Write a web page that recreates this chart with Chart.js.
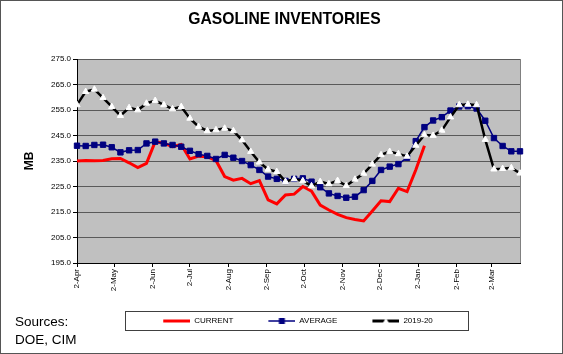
<!DOCTYPE html>
<html>
<head>
<meta charset="utf-8">
<script src="https://cdn.jsdelivr.net/npm/chart.js@4.4.0/dist/chart.umd.min.js"></script>
<style>
html,body{margin:0;padding:0;background:#fff;}
#wrap{position:relative;width:563px;height:354px;overflow:hidden;background:#fff;}
#c{position:absolute;left:0;top:0;}
#src{position:absolute;left:15px;top:313px;font-family:'Liberation Sans',Arial,sans-serif;font-size:13.5px;line-height:18px;color:#000;}
#frame{position:absolute;left:0;top:0;width:561px;height:352px;border:1px solid #555;pointer-events:none;}
</style>
</head>
<body>
<div id="wrap">
<canvas id="c" width="563" height="354"></canvas>
<div id="src">Sources:<br>DOE, CIM</div>
<div id="frame"></div>
</div>
<script>
// Weeks: days after 2-Apr
const weekDays = [0,7,14,21,28,35,42,49,56,63,70,77,84,91,98,105,112,119,126,133,140,147,154,161,168,175,182,189,196,203,210,217,224,231,238,245,252,259,266,273,280,287,294,301,308,315,322,329,336,343,350,357];

const currentValues = [235.0,235.2,235.1,235.2,235.9,236.0,234.3,232.4,234.1,242.6,
  242.0,240.6,241.5,235.8,236.9,236.7,235.2,228.9,227.5,228.2,
  226.1,227.3,219.8,218.2,221.7,222.0,225.0,223.2,217.7,215.8,
  214.1,212.8,212.1,211.5,215.4,219.4,219.1,224.3,223.0,231.5,
  241.0];

const averageValues = [241.0,240.9,241.3,241.4,240.4,238.4,239.2,239.3,241.9,242.6,
  241.9,241.3,240.6,239.0,237.7,237.0,235.8,237.4,236.3,235.0,
  233.4,231.5,228.9,228.0,227.2,228.0,228.2,226.9,224.7,222.3,
  221.3,220.6,221.0,223.6,227.2,231.5,232.8,233.8,236.3,242.8,
  248.3,250.9,252.2,254.8,256.4,256.5,255.6,250.8,244.0,240.9,
  238.8,238.8];

const prevYearValues = [257.0,262.2,263.1,259.8,256.3,252.8,255.9,255.0,257.6,258.7,
  257.0,255.4,256.3,251.7,248.5,246.8,247.2,247.8,246.8,243.2,
  238.7,234.5,231.7,230.8,226.9,227.9,227.2,225.2,226.9,226.0,
  227.3,225.3,227.8,230.1,233.7,237.4,238.7,237.8,236.8,241.1,
  245.2,245.0,247.0,252.2,257.0,257.2,257.0,243.4,231.8,232.0,
  232.3,230.2];

const monthTickDays = [0,30,61,91,122,153,183,214,244,275,306,334];
const monthTickLabels = ['2-Apr','2-May','2-Jun','2-Jul','2-Aug','2-Sep','2-Oct','2-Nov','2-Dec','2-Jan','2-Feb','2-Mar'];

const seriesNames = ['CURRENT','AVERAGE','2019-20'];

const FONT = "'Liberation Sans', Arial, sans-serif";
Chart.defaults.font.family = FONT;
Chart.defaults.color = '#000';

function toPoints(vals) { return vals.map((v, i) => ({x: weekDays[i], y: v})); }

const LEG_W = 54, LEG_GAP = 27;
function legendImg(kind) {
  const c = document.createElement('canvas');
  c.width = LEG_W; c.height = 10;
  const g = c.getContext('2d');
  const x0 = LEG_GAP, x1 = LEG_W, y = 5, xm = (x0 + x1) / 2;
  g.beginPath(); g.moveTo(x0, y); g.lineTo(x1, y);
  if (kind === 0) { g.strokeStyle = '#ff0000'; g.lineWidth = 3; g.stroke(); }
  else if (kind === 1) {
    g.strokeStyle = '#000080'; g.lineWidth = 1.5; g.stroke();
    g.fillStyle = '#000080'; g.fillRect(xm - 3, y - 3, 6, 6);
  } else {
    g.strokeStyle = '#000'; g.lineWidth = 3; g.stroke();
    g.fillStyle = '#fff'; g.beginPath();
    g.moveTo(xm, y - 3.5); g.lineTo(xm + 3.2, y + 2.5); g.lineTo(xm - 3.2, y + 2.5); g.closePath(); g.fill();
  }
  return c;
}
const legendImgs = [legendImg(0), legendImg(1), legendImg(2)];

const framePlugin = {
  id: 'framePlugin',
  beforeDraw(chart) {
    const {ctx, chartArea: a} = chart;
    ctx.save();
    ctx.fillStyle = '#fff';
    ctx.fillRect(0, 0, chart.width, chart.height);
    ctx.fillStyle = '#c0c0c0';
    ctx.fillRect(a.left, a.top, a.right - a.left, a.bottom - a.top);
    ctx.restore();
  },
  beforeDatasetsDraw(chart) {
    const {ctx, chartArea: a} = chart;
    ctx.save();
    ctx.strokeStyle = '#808080';
    ctx.lineWidth = 1;
    ctx.beginPath();
    ctx.moveTo(Math.round(a.right) + 0.5, a.top);
    ctx.lineTo(Math.round(a.right) + 0.5, a.bottom);
    ctx.stroke();
    ctx.restore();
  },
  afterDraw(chart) {
    const lg = chart.legend;
    if (!lg || !lg.legendHitBoxes || !lg.legendHitBoxes.length) return;
    const hb = lg.legendHitBoxes;
    const first = hb[0], last = hb[hb.length - 1];
    const x0 = Math.round(first.left + LEG_GAP - 38) + 0.5;
    const x1 = Math.round(last.left + last.width + 35) + 0.5;
    const yc = first.top + first.height / 2;
    const y0 = Math.round(yc - 10) + 0.5;
    const ctx = chart.ctx;
    ctx.save();
    ctx.strokeStyle = '#404040';
    ctx.lineWidth = 1;
    ctx.strokeRect(x0, y0, x1 - x0, 19);
    ctx.restore();
  }
};

new Chart(document.getElementById('c'), {
  type: 'line',
  data: {
    datasets: [
      {
        label: seriesNames[0],
        data: toPoints(currentValues),
        borderColor: '#ff0000',
        borderWidth: 3,
        pointRadius: 0,
        tension: 0,
        order: 3,
        clip: false
      },
      {
        label: seriesNames[1],
        data: toPoints(averageValues),
        borderColor: '#000080',
        borderWidth: 1.5,
        pointStyle: 'rect',
        pointRadius: 3.8,
        pointBackgroundColor: '#000080',
        pointBorderColor: '#000080',
        pointBorderWidth: 1,
        tension: 0,
        order: 2,
        clip: false
      },
      {
        label: seriesNames[2],
        data: toPoints(prevYearValues),
        borderColor: '#000000',
        borderWidth: 2.5,
        pointStyle: 'triangle',
        pointRadius: 3.6,
        pointBackgroundColor: '#ffffff',
        pointBorderColor: '#ffffff',
        pointBorderWidth: 1,
        tension: 0,
        order: 1,
        clip: false
      }
    ]
  },
  options: {
    responsive: false,
    animation: false,
    devicePixelRatio: 1,
    events: [],
    layout: { padding: { left: 6, right: 0, top: 0, bottom: 19 } },
    plugins: {
      tooltip: { enabled: false },
      title: {
        display: true,
        text: 'GASOLINE INVENTORIES',
        font: { size: 15.7, weight: 'bold', family: FONT },
        color: '#000',
        padding: { top: 10, bottom: 30.2 }
      },
      legend: {
        display: true,
        position: 'bottom',
        onClick: null,
        labels: {
          usePointStyle: true,
          pointStyleWidth: LEG_W,
          boxHeight: 8,
          padding: 8,
          color: '#000',
          font: { size: 8, family: FONT },
          generateLabels: () => seriesNames.map((name, i) => ({
            text: name,
            pointStyle: legendImgs[i],
            fillStyle: 'transparent',
            strokeStyle: 'transparent',
            lineWidth: 0,
            hidden: false,
            datasetIndex: i,
            fontColor: '#000'
          }))
        }
      }
    },
    scales: {
      x: {
        type: 'linear',
        min: 0,
        max: 357,
        afterFit: (s) => { s.height = 46; },
        afterBuildTicks: (s) => { s.ticks = monthTickDays.map(v => ({ value: v })); },
        ticks: {
          autoSkip: false,
          maxRotation: 90,
          minRotation: 90,
          padding: 2,
          color: '#000',
          font: { size: 8, family: FONT },
          callback: (value, index) => monthTickLabels[index]
        },
        grid: {
          display: true,
          drawOnChartArea: false,
          drawTicks: true,
          tickLength: 4,
          tickColor: '#000'
        },
        border: { display: true, color: '#000', width: 1 }
      },
      y: {
        min: 195,
        max: 275,
        afterFit: (s) => { s.width = 71; },
        ticks: {
          stepSize: 10,
          padding: 2,
          color: '#000',
          font: { size: 8, family: FONT },
          callback: (v) => Number(v).toFixed(1)
        },
        grid: {
          color: '#5a5a5a',
          lineWidth: 1,
          tickLength: 4,
          tickColor: '#000'
        },
        border: { display: true, color: '#000', width: 1 },
        title: {
          display: true,
          text: 'MB',
          font: { size: 12, weight: 'bold', family: FONT },
          color: '#000',
          padding: { top: 16.8, bottom: 0 }
        }
      },
      ySpacer: {
        position: 'right',
        display: true,
        min: 0,
        max: 1,
        afterFit: (s) => { s.width = 43; },
        ticks: { display: false },
        grid: { display: false, drawTicks: false },
        border: { display: false }
      }
    }
  },
  plugins: [framePlugin]
});
</script>
</body>
</html>
